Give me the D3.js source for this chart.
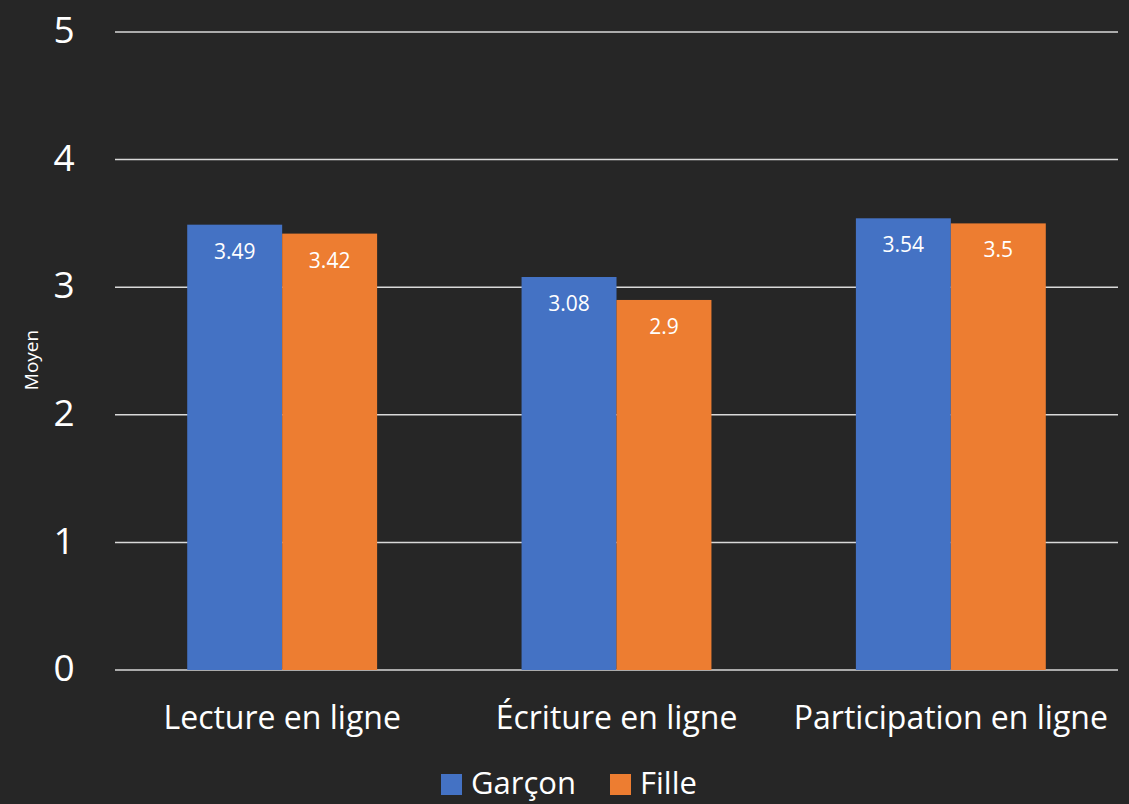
<!DOCTYPE html>
<html lang="fr">
<head>
<meta charset="UTF-8">
<title>Moyen par genre</title>
<script src="https://d3js.org/d3.v7.min.js"></script>
<style>
  body { margin: 0; background: #262626; }
  svg { display: block; font-family: "Open Sans", Lato, sans-serif; }
</style>
</head>
<body>
<svg id="chart" width="1129" height="804"></svg>
<script>
const categories = ["Lecture en ligne", "Écriture en ligne", "Participation en ligne"];
const series = ["Garçon", "Fille"];
const garcon = [3.49, 3.08, 3.54];
const fille = [3.42, 2.9, 3.5];
const yTicks = [0, 1, 2, 3, 4, 5];
const colors = ["#4472C4", "#ED7D31"];

const svg = d3.select("#chart");
const plotLeft = 115, plotRight = 1118, plotTop = 32, plotBottom = 670;

const x = d3.scaleBand().domain(categories).range([plotLeft, plotRight]).padding(0);
const x1 = d3.scaleBand().domain(series).range([0, x.bandwidth() * 0.568]).padding(0);
const y = d3.scaleLinear().domain([0, 5]).range([plotBottom, plotTop]);

// gridlines
svg.append("g").selectAll("line")
  .data(yTicks)
  .enter().append("line")
  .attr("x1", plotLeft).attr("x2", plotRight)
  .attr("y1", d => y(d)).attr("y2", d => y(d))
  .attr("stroke", "#d9d9d9").attr("stroke-width", 1.5);

// y tick labels
svg.append("g").selectAll("text")
  .data(yTicks)
  .enter().append("text")
  .attr("x", 64).attr("y", d => y(d))
  .attr("dy", "0.3em")
  .attr("text-anchor", "middle")
  .attr("fill", "#ffffff")
  .attr("font-size", 37)
  .text(d => d);

// y axis title
svg.append("text")
  .attr("transform", "translate(38,360) rotate(-90)")
  .attr("text-anchor", "middle")
  .attr("fill", "#ffffff")
  .attr("font-size", 19)
  .text("Moyen");

const rows = categories.map((c, i) => ({ cat: c, vals: [garcon[i], fille[i]] }));

const groups = svg.append("g").selectAll("g")
  .data(rows)
  .enter().append("g")
  .attr("transform", d => `translate(${x(d.cat) + (x.bandwidth() - x1.range()[1]) / 2},0)`);

groups.selectAll("rect")
  .data(d => d.vals.map((v, j) => ({ s: series[j], v: v, j: j })))
  .enter().append("rect")
  .attr("x", d => x1(d.s))
  .attr("width", x1.bandwidth())
  .attr("y", d => y(d.v))
  .attr("height", d => y(0) - y(d.v))
  .attr("fill", d => colors[d.j]);

groups.selectAll("text")
  .data(d => d.vals.map((v, j) => ({ s: series[j], v: v })))
  .enter().append("text")
  .attr("x", d => x1(d.s) + x1.bandwidth() / 2)
  .attr("y", d => y(d.v) + 34)
  .attr("text-anchor", "middle")
  .attr("fill", "#ffffff")
  .attr("font-size", 21)
  .text(d => d.v);

// category labels
svg.append("g").selectAll("text")
  .data(categories)
  .enter().append("text")
  .attr("x", d => x(d) + x.bandwidth() / 2)
  .attr("y", 729)
  .attr("text-anchor", "middle")
  .attr("fill", "#ffffff")
  .attr("font-size", 32)
  .text(d => d);

// legend
const legendX = [441, 610];
const legend = svg.append("g").selectAll("g")
  .data(series)
  .enter().append("g")
  .attr("transform", (d, i) => `translate(${legendX[i]},774)`);
legend.append("rect")
  .attr("width", 21).attr("height", 21)
  .attr("fill", (d, i) => colors[i]);
legend.append("text")
  .attr("x", 30).attr("y", 20)
  .attr("fill", "#ffffff")
  .attr("font-size", 31)
  .text(d => d);
</script>
</body>
</html>
